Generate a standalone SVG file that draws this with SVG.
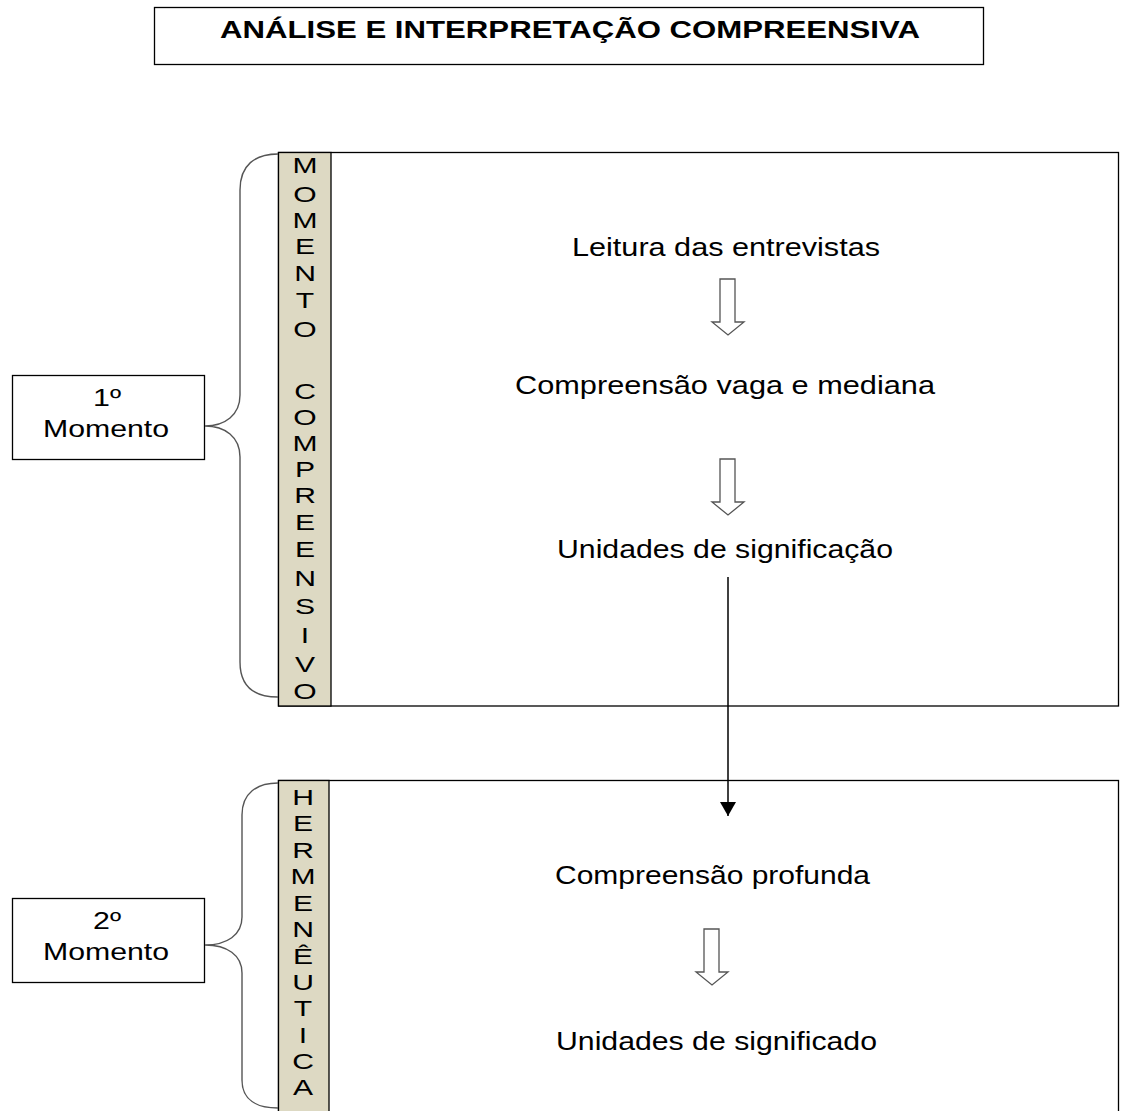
<svg xmlns="http://www.w3.org/2000/svg" width="1122" height="1111" viewBox="0 0 1122 1111">
<style>
.box{fill:#fff;stroke:#000;stroke-width:1.3}
.strip{fill:#ddd9c3;stroke:#000;stroke-width:1.3}
.brace{fill:none;stroke:#555;stroke-width:1.4}
.hollow{fill:#fff;stroke:#555;stroke-width:1.3}
.t{font-family:"Liberation Sans",Arial,sans-serif;font-size:25px;fill:#000}
.lbl{font-family:"Liberation Sans",Arial,sans-serif;font-size:24px;fill:#000;text-anchor:middle}
.v{font-family:"Liberation Sans",Arial,sans-serif;font-size:21.5px;fill:#000;text-anchor:middle}
.title{font-family:"Liberation Sans",Arial,sans-serif;font-size:24px;font-weight:bold;fill:#000}
</style>
<defs>
<marker id="ah" markerUnits="userSpaceOnUse" markerWidth="18" markerHeight="16" refX="14" refY="8" orient="auto">
<path d="M0,0 L14,8 L0,16 Z" fill="#000"/>
</marker>
</defs>
<rect width="1122" height="1111" fill="#fff"/>

<g id="title">
<rect class="box" x="154.5" y="7.5" width="829" height="57"/>
<text class="title" x="220" y="38" textLength="700" lengthAdjust="spacingAndGlyphs">ANÁLISE E INTERPRETAÇÃO COMPREENSIVA</text>
</g>

<g id="moment1-box">
<rect class="box" x="278.5" y="152.5" width="840" height="553.5"/>
<rect class="strip" x="278.5" y="152.5" width="52.5" height="553.5"/>
<g transform="translate(305 0) scale(1.4 1)">
<text class="v" x="0" y="173">M</text>
<text class="v" x="0" y="202">O</text>
<text class="v" x="0" y="228">M</text>
<text class="v" x="0" y="254">E</text>
<text class="v" x="0" y="281">N</text>
<text class="v" x="0" y="308">T</text>
<text class="v" x="0" y="337">O</text>
<text class="v" x="0" y="399">C</text>
<text class="v" x="0" y="425">O</text>
<text class="v" x="0" y="451">M</text>
<text class="v" x="0" y="477">P</text>
<text class="v" x="0" y="503">R</text>
<text class="v" x="0" y="530">E</text>
<text class="v" x="0" y="557">E</text>
<text class="v" x="0" y="586">N</text>
<text class="v" x="0" y="614">S</text>
<text class="v" x="0" y="643">I</text>
<text class="v" x="0" y="672">V</text>
<text class="v" x="0" y="699">O</text>
</g>
</g>

<g id="moment2-box">
<rect class="box" x="278.5" y="780.5" width="840" height="340"/>
<rect class="strip" x="278.5" y="780.5" width="50.5" height="340"/>
<g transform="translate(303 0) scale(1.4 1)">
<text class="v" x="0" y="805">H</text>
<text class="v" x="0" y="831">E</text>
<text class="v" x="0" y="858">R</text>
<text class="v" x="0" y="884">M</text>
<text class="v" x="0" y="911">E</text>
<text class="v" x="0" y="937">N</text>
<text class="v" x="0" y="964">Ê</text>
<text class="v" x="0" y="990">U</text>
<text class="v" x="0" y="1016">T</text>
<text class="v" x="0" y="1043">I</text>
<text class="v" x="0" y="1069">C</text>
<text class="v" x="0" y="1095">A</text>
</g>
</g>

<g id="n-leitura"><text class="t" x="572" y="256" textLength="308" lengthAdjust="spacingAndGlyphs">Leitura das entrevistas</text></g>
<g id="n-vaga"><text class="t" x="515" y="394" textLength="420" lengthAdjust="spacingAndGlyphs">Compreensão vaga e mediana</text></g>
<g id="n-unidades1"><text class="t" x="557" y="558" textLength="336" lengthAdjust="spacingAndGlyphs">Unidades de significação</text></g>
<g id="n-profunda"><text class="t" x="555" y="884" textLength="315" lengthAdjust="spacingAndGlyphs">Compreensão profunda</text></g>
<g id="n-unidades2"><text class="t" x="556" y="1050" textLength="321" lengthAdjust="spacingAndGlyphs">Unidades de significado</text></g>

<g id="label1">
<rect class="box" x="12.5" y="375.5" width="192" height="84"/>
<text class="lbl" x="107" y="406" textLength="28" lengthAdjust="spacingAndGlyphs">1º</text>
<text class="lbl" x="106" y="437" textLength="126" lengthAdjust="spacingAndGlyphs">Momento</text>
</g>
<g id="label2">
<rect class="box" x="12.5" y="898.5" width="192" height="84"/>
<text class="lbl" x="107" y="929" textLength="28" lengthAdjust="spacingAndGlyphs">2º</text>
<text class="lbl" x="106" y="960" textLength="126" lengthAdjust="spacingAndGlyphs">Momento</text>
</g>

<g id="connectors">
<path class="brace" d="M278,154 C255,154 240,165 240,190 L240,395 C240,415 225,426 205,426 C225,426 240,437 240,457 L240,662 C240,687 255,697 278,697"/>
<path class="brace" d="M278,783 C257,783 242,793 242,815 L242,917 C242,935 227,945 205,945 C227,945 242,955 242,973 L242,1080 C242,1100 257,1108 278,1108"/>
<path class="hollow" d="M720,279 L735,279 L735,322 L744,322 L728,335 L712,322 L720,322 Z"/>
<path class="hollow" d="M720,459 L735,459 L735,502 L744,502 L728,515 L712,502 L720,502 Z"/>
<path class="hollow" d="M704,929 L719,929 L719,972 L728,972 L712,985 L696,972 L704,972 Z"/>
<line x1="728" y1="577" x2="728" y2="816" stroke="#000" stroke-width="1.5" marker-end="url(#ah)"/>
</g>
</svg>
